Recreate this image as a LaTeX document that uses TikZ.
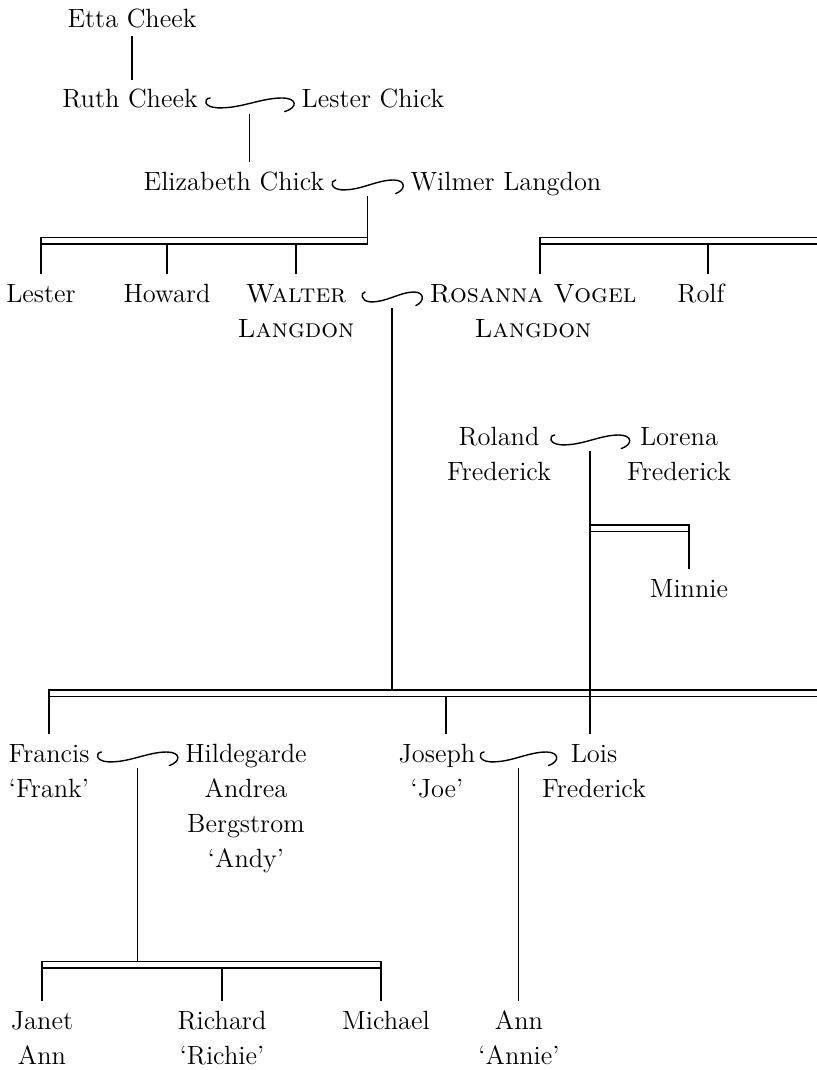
\documentclass[tikz,border=0pt]{standalone}
\usetikzlibrary{calc}

\newcommand{\namelines}[1]{\begin{tabular}[t]{@{}c@{}}#1\end{tabular}}

\tikzset{
  person/.style={anchor=base, inner ysep=1.5pt,
    font=\fontsize{13.2}{17.5}\selectfont},
  kin/.style={line width=.7pt},
  sibs/.style={line width=.7pt},
  wed/.style={line width=.7pt, line cap=round, to path={
    ($(\tikztostart)!.06!(\tikztotarget)+(0,5pt)$)
    .. controls ($(\tikztostart)!-.02!(\tikztotarget)+(0,4.6pt)$)
            and ($(\tikztostart)!-.01!(\tikztotarget)+(0,.4pt)$) ..
    ($(\tikztostart)!.14!(\tikztotarget)+(0,.1pt)$)
    .. controls ($(\tikztostart)!.4!(\tikztotarget)+(0,-.4pt)$)
            and ($(\tikztostart)!.62!(\tikztotarget)+(0,5pt)$) ..
    ($(\tikztostart)!.86!(\tikztotarget)+(0,5pt)$)
    .. controls ($(\tikztostart)!1.03!(\tikztotarget)+(0,5pt)$)
            and ($(\tikztostart)!1.04!(\tikztotarget)+(0,.3pt)$) ..
    ($(\tikztostart)!.89!(\tikztotarget)+(0,-1.8pt)$)}}
}

\begin{document}
\begin{tikzpicture}[x=0.5pt,y=-0.5pt]
  \useasboundingbox (0,0) rectangle (817,1070);

  % people
  \node[person] (etta) at (132,28) {\namelines{Etta Cheek}};
  \node[person] (ruth) at (130,108) {\namelines{Ruth Cheek}};
  \node[person] (lesterc) at (373,108) {\namelines{Lester Chick}};
  \node[person] (eliz) at (234,190) {\namelines{Elizabeth Chick}};
  \node[person] (wilmer) at (506,190) {\namelines{Wilmer Langdon}};
  \node[person] (lester) at (41,302) {\namelines{Lester}};
  \node[person] (howard) at (167,302) {\namelines{Howard}};
  \node[person] (walter) at (296,302) {\namelines{\textsc{Walter}\\\textsc{Langdon}}};
  \node[person] (rosanna) at (533,302) {\namelines{\textsc{Rosanna Vogel}\\\textsc{Langdon}}};
  \node[person] (rolf) at (701,302) {\namelines{Rolf}};
  \node[person] (roland) at (499,445) {\namelines{Roland\\Frederick}};
  \node[person] (lorena) at (679,445) {\namelines{Lorena\\Frederick}};
  \node[person] (minnie) at (689,597) {\namelines{Minnie}};
  \node[person] (francis) at (49,762) {\namelines{Francis\\‘Frank’}};
  \node[person] (hilde) at (246,762) {\namelines{Hildegarde\\Andrea\\Bergstrom\\‘Andy’}};
  \node[person] (joseph) at (437,762) {\namelines{Joseph\\‘Joe’}};
  \node[person] (lois) at (594,762) {\namelines{Lois\\Frederick}};
  \node[person] (janet) at (42,1029) {\namelines{Janet\\Ann}};
  \node[person] (richard) at (222,1029) {\namelines{Richard\\‘Richie’}};
  \node[person] (michael) at (386,1029) {\namelines{Michael}};
  \node[person] (ann) at (519,1029) {\namelines{Ann\\‘Annie’}};

  % marriages
  \coordinate (w1a) at (ruth.base east);
  \coordinate (w1b) at (lesterc.base west);
  \coordinate (w2a) at (eliz.base east);
  \coordinate (w2b) at (wilmer.base west);
  \coordinate (w3a) at (walter.base east);
  \coordinate (w3b) at (rosanna.base west);
  \coordinate (w4a) at ([xshift=-4pt]roland.base east);
  \coordinate (w4b) at ([xshift=5pt]lorena.base west);
  \coordinate (w5a) at (francis.base east);
  \coordinate (w5b) at (hilde.base west);
  \coordinate (w6a) at ([xshift=-1.5pt]joseph.base east);
  \coordinate (w6b) at ([xshift=11pt]lois.base west);
  \draw[wed] (w1a) to (w1b);
  \draw[wed] (w2a) to (w2b);
  \draw[wed] (w3a) to (w3b);
  \draw[wed] (w4a) to (w4b);
  \draw[wed] (w5a) to (w5b);
  \draw[wed] (w6a) to (w6b);
  \coordinate (m1) at ($(w1a)!.5!(w1b)+(0,-3pt)$);
  \coordinate (m2) at ($(w2a)!.5!(w2b)+(0,-3pt)$);
  \coordinate (m3) at ($(w3a)!.5!(w3b)+(0,-3pt)$);
  \coordinate (m4) at ($(w4a)!.5!(w4b)+(0,-3pt)$);
  \coordinate (m5) at ($(w5a)!.5!(w5b)+(0,-3pt)$);
  \coordinate (m6) at ($(w6a)!.5!(w6b)+(0,-3pt)$);

  % sibling bars
  \coordinate (b1t) at (0,237.5);  \coordinate (b1b) at (0,244);
  \coordinate (b3t) at (0,525);    \coordinate (b3b) at (0,531.5);
  \coordinate (b4t) at (0,690);    \coordinate (b4b) at (0,696.5);
  \coordinate (b5t) at (0,961.5);  \coordinate (b5b) at (0,968);
  \coordinate (offpage) at (840,0);
  \coordinate (rosanna-up) at ([xshift=3.5pt]rosanna.north);
  \coordinate (rolf-up) at ([xshift=3.5pt]rolf.north);
  \coordinate (joseph-up) at ([xshift=4.5pt]joseph.north);
  \coordinate (michael-up) at ([xshift=-2.5pt]michael.north);

  \draw[sibs] (lester.north |- b1t) rectangle (m2 |- b1b);
  \draw[sibs] (rosanna-up |- b1t) rectangle (offpage |- b1b);
  \draw[sibs] (m4 |- b3t) rectangle (minnie.north |- b3b);
  \draw[sibs] (francis.north |- b4t) rectangle (offpage |- b4b);
  \draw[sibs] (janet.north |- b5t) rectangle (michael-up |- b5b);

  % descent lines
  \draw[kin] ([yshift=-4pt]etta.base) -- (etta.base |- ruth.north);
  \draw[kin] (m1) -- (m1 |- eliz.north);
  \draw[kin] (m2) -- (m2 |- b1b);
  \draw[kin] (lester.north |- b1b) -- (lester.north);
  \draw[kin] (howard.north |- b1b) -- (howard.north);
  \draw[kin] (walter.north |- b1b) -- (walter.north);
  \draw[kin] (rosanna-up |- b1b) -- (rosanna-up);
  \draw[kin] (rolf-up |- b1b) -- (rolf-up);
  \draw[kin] (m3) -- (m3 |- b4t);
  \draw[kin] (m4) -- (m4 |- lois.north);
  \draw[kin] (minnie.north |- b3b) -- (minnie.north);
  \draw[kin] (francis.north |- b4b) -- (francis.north);
  \draw[kin] (joseph-up |- b4b) -- (joseph-up);
  \draw[kin] (m5) -- (m5 |- b5t);
  \draw[kin] (janet.north |- b5b) -- (janet.north);
  \draw[kin] (richard.north |- b5b) -- (richard.north);
  \draw[kin] (michael-up |- b5b) -- (michael-up);
  \draw[kin] (m6) -- (m6 |- ann.north);
\end{tikzpicture}
\end{document}
